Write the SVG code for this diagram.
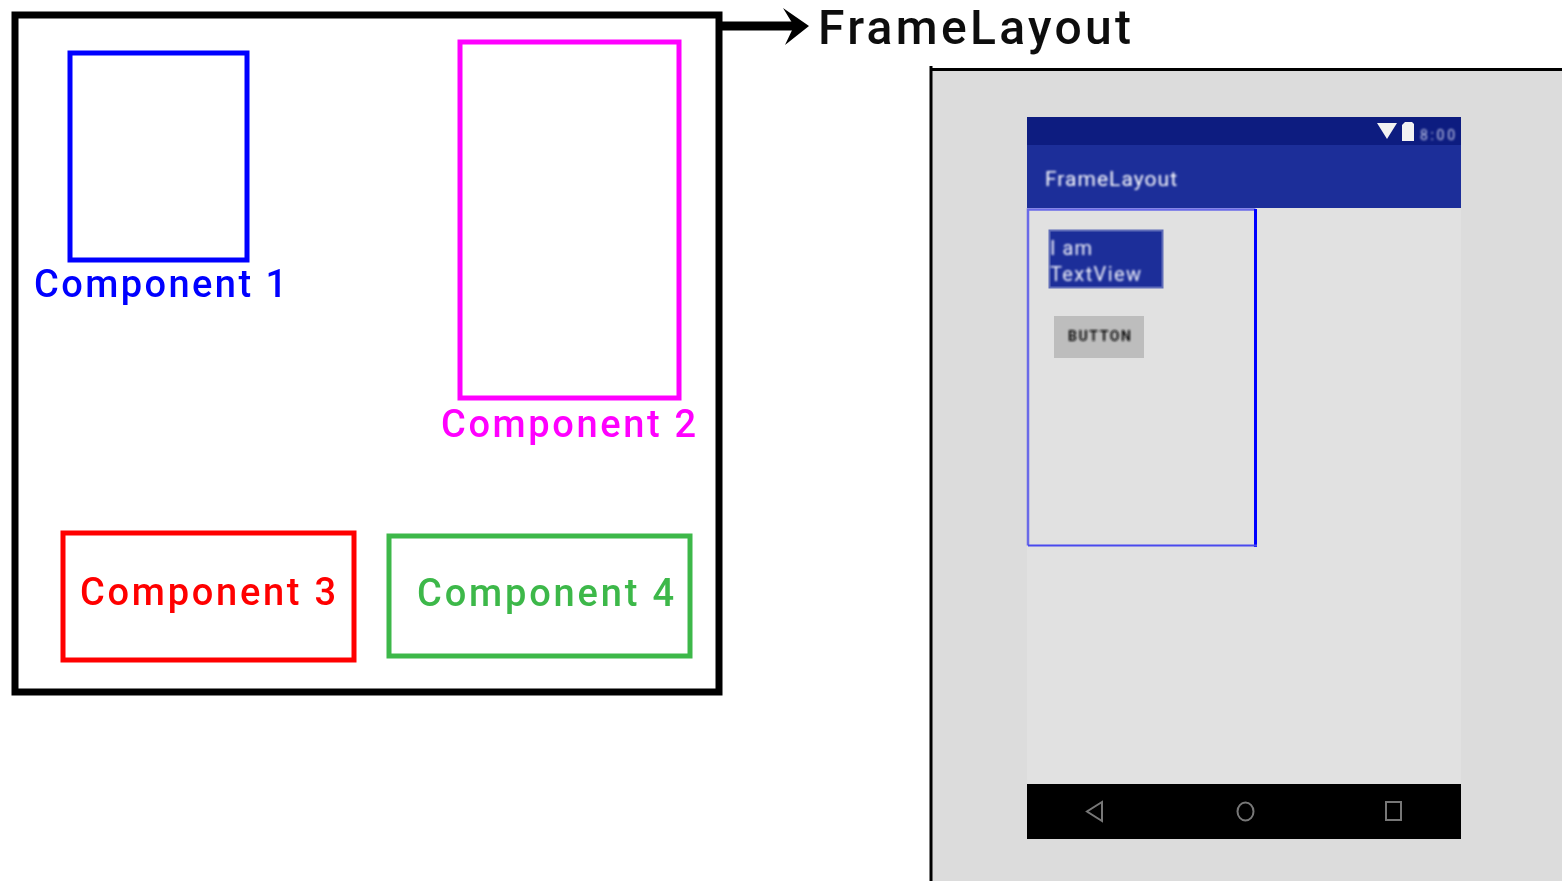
<svg xmlns="http://www.w3.org/2000/svg" width="1562" height="881" viewBox="0 0 1562 881">
<style>
text{font-family:Roboto,"Liberation Sans",sans-serif}
.c{font-size:38px;font-weight:500}
.box{fill:none;stroke-width:5}
.ic{fill:none;stroke:#777;stroke-width:2}
</style>
<defs>
<filter id="soft" x="-5%" y="-5%" width="110%" height="110%"><feGaussianBlur stdDeviation="0.6"/></filter>
<filter id="softer" x="-5%" y="-5%" width="110%" height="110%"><feGaussianBlur stdDeviation="0.9"/></filter>
</defs>
<rect width="1562" height="881" fill="#fff"/>
<g filter="url(#soft)">
<g id="framelayout-box"><rect x="15" y="15" width="704" height="677" fill="#fff" stroke="#000" stroke-width="7"/></g>
<g id="component-1"><rect class="box" x="70" y="53" width="177" height="207" stroke="#0000ff"/><text class="c" x="34" y="297" fill="#0000ff" textLength="253">Component 1</text></g>
<g id="component-2"><rect class="box" x="460" y="42" width="219" height="356" stroke="#ff00ff"/><text class="c" x="441" y="437" fill="#ff00ff" textLength="255">Component 2</text></g>
<g id="component-3"><rect class="box" x="63" y="533" width="291" height="127" stroke="#ff0000"/><text class="c" x="80" y="605" fill="#ff0000" textLength="256">Component 3</text></g>
<g id="component-4"><rect class="box" x="389" y="536" width="301" height="120" stroke="#3cb84a"/><text class="c" x="417" y="606" fill="#3cb84a" textLength="257">Component 4</text></g>
<g id="connectors"><path d="M722 26H800" stroke="#000" stroke-width="9" fill="none"/><path d="M783 8L809 26L785 45L794 26Z" fill="#000"/></g>
<g id="framelayout-label"><text x="818" y="44" font-size="48" font-weight="500" textLength="313" fill="#111">FrameLayout</text></g>
</g>
<g id="phone-screen">
<rect x="931" y="69" width="631" height="812" fill="#dcdcdc"/>
<path d="M931 66V881M929.500 69.500H1562" stroke="#000" stroke-width="3" fill="none"/>
<g filter="url(#soft)">
<rect x="1027" y="117" width="434" height="722" fill="#e1e1e1"/>
<rect x="1027" y="117" width="434" height="28" fill="#0b1a80"/>
<rect x="1027" y="145" width="434" height="63" fill="#1c2e99"/>
<path d="M1377 123H1397L1387 139Z" fill="#f2f2f2"/>
<path d="M1402 125L1405 122H1412L1414 124V141H1402Z" fill="#f2f2f2"/>
<rect x="1049.500" y="230.500" width="113" height="57" fill="#1c2e99" stroke="#5e6cb8" stroke-width="2"/>
<rect x="1054" y="316" width="90" height="42" fill="#bdbdbd"/>
<rect x="1027" y="784" width="434" height="55" fill="#000"/>
<path d="M1028 545.500V209.500H1255.500" fill="none" stroke="#6a6ae8" stroke-width="2.500"/>
<path d="M1255.500 209V547" stroke="#0000ff" stroke-width="3" fill="none"/>
<path d="M1028 545.500H1257" stroke="#4a4aee" stroke-width="2" fill="none"/>
<path class="ic" d="M1102 802V821L1087 811.500Z"/>
<ellipse class="ic" cx="1245.500" cy="811.500" rx="8" ry="9"/>
<rect class="ic" x="1386" y="802" width="15" height="18"/>
</g>
<g filter="url(#softer)">
<text x="1420" y="140" font-size="14" fill="#c5cae8" textLength="35">8:00</text>
<text x="1045" y="186" font-size="21" fill="#fff" textLength="132">FrameLayout</text>
<text x="1050" y="255" font-size="20" fill="#f0f1fa" textLength="42">I am</text>
<text x="1050" y="281" font-size="20" fill="#f0f1fa" textLength="91">TextView</text>
<text x="1068" y="341" font-size="14" font-weight="700" fill="#111" textLength="63">BUTTON</text>
</g>
</g>
</svg>
